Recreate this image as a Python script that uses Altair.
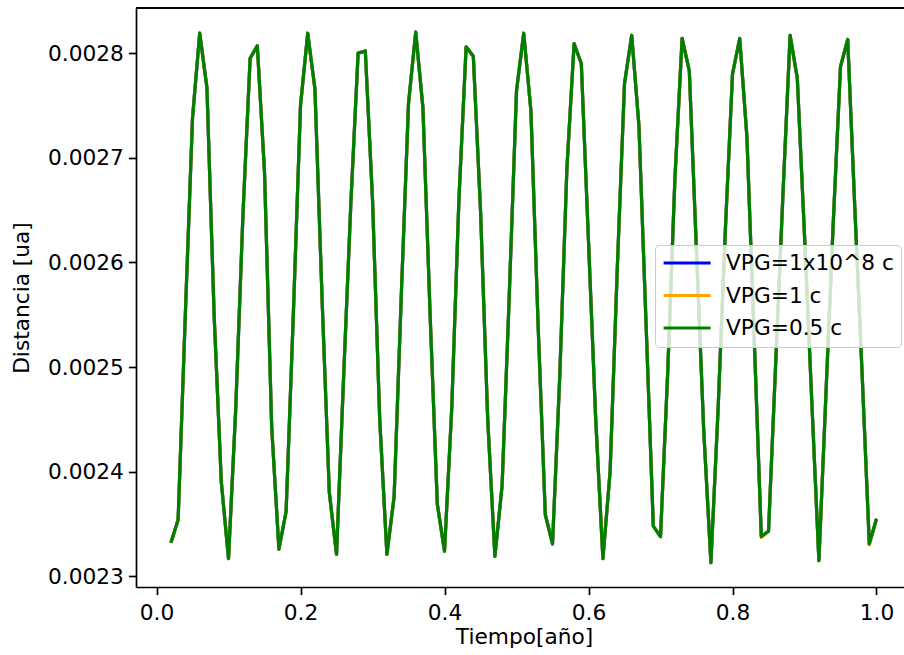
import altair as alt
import pandas as pd

# Sample times (años)
tiempo = [0.02, 0.03, 0.04, 0.05, 0.06, 0.07, 0.08, 0.09, 0.10,
          0.11, 0.12, 0.13, 0.14, 0.15, 0.16, 0.17, 0.18, 0.19, 0.20,
          0.21, 0.22, 0.23, 0.24, 0.25, 0.26, 0.27, 0.28, 0.29, 0.30,
          0.31, 0.32, 0.33, 0.34, 0.35, 0.36, 0.37, 0.38, 0.39, 0.40,
          0.41, 0.42, 0.43, 0.44, 0.45, 0.46, 0.47, 0.48, 0.49, 0.50,
          0.51, 0.52, 0.53, 0.54, 0.55, 0.56, 0.57, 0.58, 0.59, 0.60,
          0.61, 0.62, 0.63, 0.64, 0.65, 0.66, 0.67, 0.68, 0.69, 0.70,
          0.71, 0.72, 0.73, 0.74, 0.75, 0.76, 0.77, 0.78, 0.79, 0.80,
          0.81, 0.82, 0.83, 0.84, 0.85, 0.86, 0.87, 0.88, 0.89, 0.90,
          0.91, 0.92, 0.93, 0.94, 0.95, 0.96, 0.97, 0.98, 0.99, 1.00]

# Distance (ua); the three series overlap
dist_vpg_1e8 = [0.002332, 0.002354, 0.002550, 0.002738, 0.002819, 0.002767, 0.002550, 0.002390, 0.002317,
                0.002460, 0.002645, 0.002795, 0.002807, 0.002686, 0.002442, 0.002326, 0.002362, 0.002550, 0.002750,
                0.002819, 0.002766, 0.002564, 0.002380, 0.002321, 0.002493, 0.002658, 0.002800, 0.002802, 0.002660,
                0.002450, 0.002321, 0.002376, 0.002569, 0.002752, 0.002820, 0.002748, 0.002550, 0.002369, 0.002324,
                0.002460, 0.002660, 0.002806, 0.002797, 0.002650, 0.002450, 0.002319, 0.002387, 0.002570, 0.002764,
                0.002819, 0.002745, 0.002540, 0.002359, 0.002331, 0.002490, 0.002690, 0.002809, 0.002790, 0.002620,
                0.002450, 0.002317, 0.002400, 0.002595, 0.002771, 0.002817, 0.002731, 0.002540, 0.002348, 0.002338,
                0.002495, 0.002680, 0.002814, 0.002783, 0.002610, 0.002440, 0.002313, 0.002460, 0.002630, 0.002780,
                0.002814, 0.002720, 0.002530, 0.002338, 0.002343, 0.002504, 0.002664, 0.002817, 0.002776, 0.002626,
                0.002469, 0.002315, 0.002478, 0.002639, 0.002787, 0.002813, 0.002650, 0.002494, 0.002331, 0.002355]
dist_vpg_1 = [0.002332, 0.002354, 0.002550, 0.002738, 0.002819, 0.002767, 0.002550, 0.002390, 0.002317,
              0.002460, 0.002645, 0.002795, 0.002807, 0.002686, 0.002442, 0.002326, 0.002362, 0.002550, 0.002750,
              0.002819, 0.002766, 0.002564, 0.002380, 0.002321, 0.002493, 0.002658, 0.002800, 0.002802, 0.002660,
              0.002450, 0.002321, 0.002376, 0.002569, 0.002752, 0.002820, 0.002748, 0.002550, 0.002369, 0.002324,
              0.002460, 0.002660, 0.002806, 0.002797, 0.002650, 0.002450, 0.002319, 0.002387, 0.002570, 0.002764,
              0.002819, 0.002745, 0.002540, 0.002359, 0.002331, 0.002490, 0.002690, 0.002809, 0.002790, 0.002620,
              0.002450, 0.002317, 0.002400, 0.002595, 0.002771, 0.002817, 0.002731, 0.002540, 0.002348, 0.002338,
              0.002495, 0.002680, 0.002814, 0.002783, 0.002610, 0.002440, 0.002313, 0.002460, 0.002630, 0.002780,
              0.002814, 0.002720, 0.002530, 0.002337, 0.002343, 0.002504, 0.002664, 0.002817, 0.002776, 0.002626,
              0.002469, 0.002315, 0.002478, 0.002639, 0.002787, 0.002813, 0.002650, 0.002494, 0.002330, 0.002355]
dist_vpg_05 = [0.002332, 0.002354, 0.002550, 0.002738, 0.002819, 0.002767, 0.002550, 0.002390, 0.002317,
               0.002460, 0.002645, 0.002795, 0.002807, 0.002686, 0.002442, 0.002326, 0.002362, 0.002550, 0.002750,
               0.002819, 0.002766, 0.002564, 0.002380, 0.002321, 0.002493, 0.002658, 0.002800, 0.002802, 0.002660,
               0.002450, 0.002321, 0.002376, 0.002569, 0.002752, 0.002820, 0.002748, 0.002550, 0.002369, 0.002324,
               0.002460, 0.002660, 0.002806, 0.002797, 0.002650, 0.002450, 0.002319, 0.002387, 0.002570, 0.002764,
               0.002819, 0.002745, 0.002540, 0.002359, 0.002331, 0.002490, 0.002690, 0.002809, 0.002790, 0.002620,
               0.002450, 0.002317, 0.002400, 0.002595, 0.002771, 0.002817, 0.002731, 0.002540, 0.002348, 0.002338,
               0.002495, 0.002680, 0.002814, 0.002783, 0.002610, 0.002440, 0.002313, 0.002460, 0.002630, 0.002780,
               0.002814, 0.002720, 0.002530, 0.002338, 0.002343, 0.002504, 0.002664, 0.002817, 0.002776, 0.002626,
               0.002469, 0.002315, 0.002478, 0.002639, 0.002787, 0.002813, 0.002650, 0.002494, 0.002331, 0.002355]

series_names = ["VPG=1x10^8 c", "VPG=1 c", "VPG=0.5 c"]
series_colors = ["#0000ff", "#ffa500", "#008000"]
x_ticks = [0.0, 0.2, 0.4, 0.6, 0.8, 1.0]
y_ticks = [0.0023, 0.0024, 0.0025, 0.0026, 0.0027, 0.0028]

frames = []
for name, vals in zip(series_names, [dist_vpg_1e8, dist_vpg_1, dist_vpg_05]):
    frames.append(pd.DataFrame({"t": tiempo, "d": vals, "serie": name}))
df = pd.concat(frames, ignore_index=True)

FONT = "DejaVu Sans"
FS = 21.7
W, H = 768, 579

color_enc = alt.Color(
    "serie:N",
    scale=alt.Scale(domain=series_names, range=series_colors),
    legend=alt.Legend(
        orient="none", legendX=519, legendY=237, title=None,
        symbolType="M-1,0H4", symbolSize=353, symbolStrokeWidth=3.2,
        labelFont=FONT, labelFontSize=FS, labelColor="black", labelOffset=42,
        labelLimit=0, padding=7, rowPadding=9.5,
        fillColor="rgba(255,255,255,0.8)", strokeColor="#cccccc", cornerRadius=4,
    ),
)

x_enc = alt.X(
    "t:Q",
    scale=alt.Scale(domain=[-0.0285, 1.0382], nice=False, zero=False),
    axis=alt.Axis(
        values=x_ticks, format=".1f", title="Tiempo[año]",
        titleX=388, titleY=56, titleBaseline="alphabetic", titleAlign="center",
        labelPadding=8,
    ),
)
y_enc = alt.Y(
    "d:Q",
    scale=alt.Scale(domain=[0.0022898, 0.0028431], nice=False, zero=False),
    axis=alt.Axis(
        values=y_ticks, format=".4f", title="Distancia [ua]",
        titleX=-115, titleY=H / 2, titleAngle=270, titleBaseline="middle", titleAlign="center",
        labelPadding=5,
    ),
)

layers = []
for name in series_names:
    layers.append(
        alt.Chart(df)
        .transform_filter(alt.datum.serie == name)
        .mark_line(strokeWidth=3.2, strokeJoin="round")
        .encode(x=x_enc, y=y_enc, color=color_enc)
    )

top_spine = alt.Chart(df).mark_rule(color="black", strokeWidth=1.7).encode(
    x=alt.value(0), x2=alt.value(W), y=alt.value(0)
)

chart = (
    alt.layer(*layers, top_spine)
    .properties(
        width=W, height=H, autosize="none", background="white",
        padding={"left": 136, "top": 8, "right": 0, "bottom": 68},
    )
    .configure_view(stroke=None)
    .configure_axis(
        labelFont=FONT, labelFontSize=FS, labelColor="black",
        titleFont=FONT, titleFontSize=FS, titleColor="black", titleFontWeight="normal",
        domainColor="black", domainWidth=1.7, tickColor="black", tickWidth=1.7, tickSize=7.6,
        grid=False,
    )
)

chart.save("out.html", embed_options={"renderer": "svg", "actions": False})
